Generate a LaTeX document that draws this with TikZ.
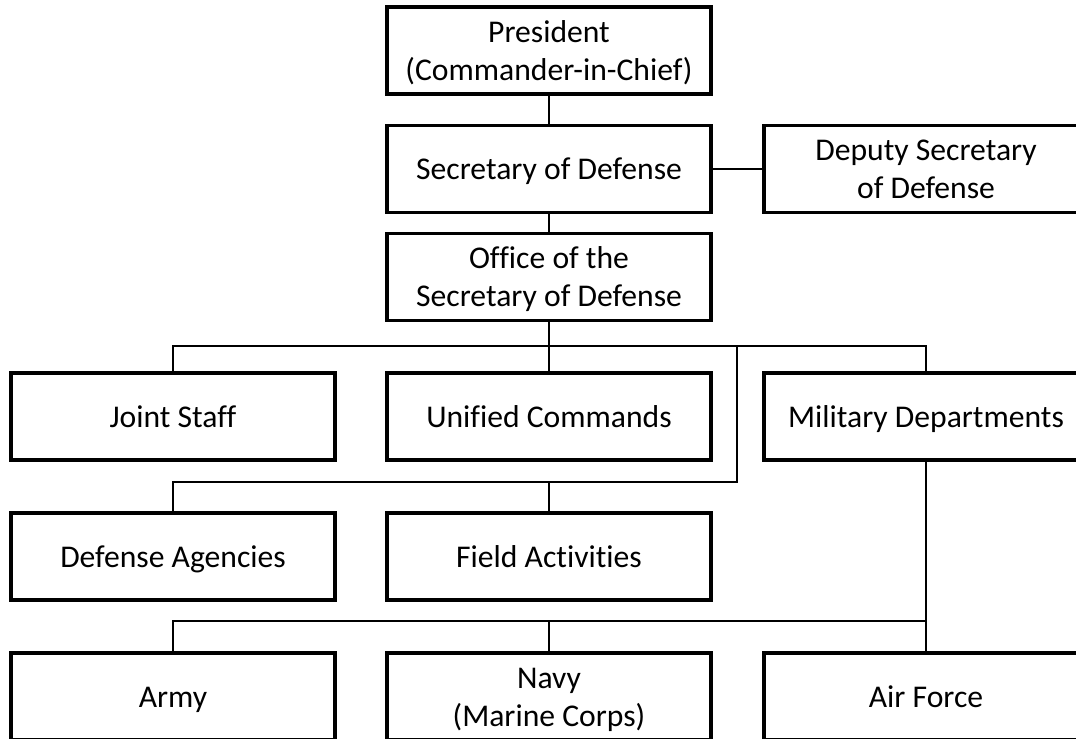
\documentclass[tikz,border=0pt]{standalone}
\usepackage{fontspec}
\setmainfont{Carlito}[Ligatures={NoCommon}]
\newcommand\rowstrut{\rule[-6pt]{0pt}{27pt}}
\begin{document}
\begin{tikzpicture}[x=0.025cm,y=-0.025cm,
  box/.style={draw, line width=2.3pt, minimum width=8.1cm, minimum height=2.175cm,
    inner sep=0pt, align=center, font=\fontsize{22.5}{27}\selectfont},
  link/.style={line width=1.3pt}]
  \useasboundingbox (0,0) rectangle (1076,738);
  % top of the chain
  \node[box] (pres) at (549,50.5) {\rowstrut President\\\rowstrut(Commander-in-Chief)};
  \node[box] (secdef) at (549,169) {\rowstrut Secretary of Defense};
  \node[box] (deputy) at (926,169) {\rowstrut Deputy Secretary\\\rowstrut of Defense};
  \node[box] (osd) at (549,277) {\rowstrut Office of the\\\rowstrut Secretary of Defense};
  % components
  \node[box] (joint) at (173,416.5) {\rowstrut Joint Staff};
  \node[box] (unified) at (549,416.5) {\rowstrut Unified Commands};
  \node[box] (milDept) at (926,416.5) {\rowstrut Military Departments};
  \node[box] (agencies) at (173,556.5) {\rowstrut Defense Agencies};
  \node[box] (field) at (549,556.5) {\rowstrut Field Activities};
  \node[box] (army) at (173,696.5) {\rowstrut Army};
  \node[box] (navy) at (549,696.5) {\rowstrut Navy\\\rowstrut(Marine Corps)};
  \node[box] (airForce) at (926,696.5) {\rowstrut Air Force};
  % bus points
  \coordinate (busA) at (549,346);
  \coordinate (split) at (737,346);
  \coordinate (busB) at (549,482);
  \coordinate (busC) at (549,621);
  \draw[link] (pres) -- (secdef);
  \draw[link] (secdef) -- (deputy);
  \draw[link] (secdef) -- (osd);
  \draw[link] (osd) -- (unified);
  \draw[link] (joint.north) |- (busA) -| (milDept.north);
  \draw[link] (split) |- (busB) -| (agencies.north);
  \draw[link] (busB) -- (field.north);
  \draw[link] (milDept) -- (airForce);
  \draw[link] (army.north) |- (busC) -| (airForce.north);
  \draw[link] (busC) -- (navy.north);
\end{tikzpicture}
\end{document}
